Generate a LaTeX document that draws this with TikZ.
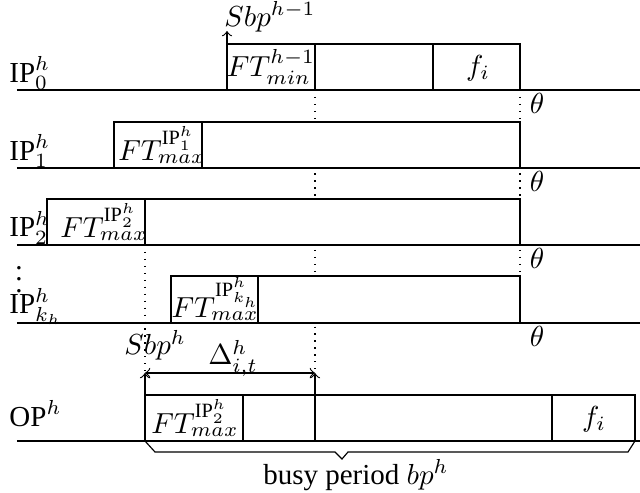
\documentclass[tikz,border=0pt]{standalone}
\usepackage{amsmath}
\usepackage[no-math]{fontspec}
\setmainfont{Liberation Serif}
\newcommand{\IP}{\text{IP}}
\newcommand{\OP}{\text{OP}}

\begin{document}
\begin{tikzpicture}[x=0.345pt,y=-0.345pt,line join=miter,every node/.style={inner sep=1pt}]
  \tikzset{slot/.style={draw,fill=white},
    guide/.style={dotted},
    rowlabel/.style={anchor=base west}}
  \useasboundingbox (0,0) rectangle (640,493);
  % dotted guides
  \draw[guide] (315,90) -- (315,373);
  \draw[guide] (520,90) -- (520,276);
  \draw[guide] (145,245) -- (145,373);
  % time axes
  \foreach \y in {90,168,245,323,441}
    \draw (17,\y) -- (640,\y);
  \foreach \y/\n in {90/0,168/1,245/2,323/3}
    \node (theta\n) at (537,{\y+13}) {$\theta$};
  % IP_0
  \draw[slot] (227,44) rectangle (520,90);
  \draw (315,44) -- (315,90);
  \draw (433,44) -- (433,90);
  \node (ft0) at (271,67) {$FT^{h-1}_{min}$};
  \node (f0) at (478,68) {$f_i$};
  % IP_1
  \draw[slot] (114,122) rectangle (520,168);
  \draw (202,122) -- (202,168);
  \node (ft1) at (162,145) {$FT^{\IP^h_1}_{max}$};
  % IP_2
  \draw[slot] (47,199) rectangle (520,245);
  \draw (145,199) -- (145,245);
  \node (ft2) at (104,222) {$FT^{\IP^h_2}_{max}$};
  % IP_k
  \draw[slot] (171,276) rectangle (520,323);
  \draw (258,276) -- (258,323);
  \node (ftk) at (216,299) {$FT^{\IP^h_{k_h}}_{max}$};
  % OP
  \draw[slot] (145,395) rectangle (635,441);
  \draw (243,395) -- (243,441);
  \draw (315,395) -- (315,441);
  \draw (552,395) -- (552,441);
  \node (fto) at (195,418) {$FT^{\IP^h_2}_{max}$};
  \node (fo) at (594,419) {$f_i$};
  % row labels
  \node[rowlabel] (ip0) at (6,82) {$\IP^h_0$};
  \node[rowlabel] (ip1) at (6,160) {$\IP^h_1$};
  \node[rowlabel] (ip2) at (6,237) {$\IP^h_2$};
  \node (dots) at (19,271) {$\vdots$};
  \node[rowlabel] (ipk) at (6,314) {$\IP^h_{k_h}$};
  \node[rowlabel] (op) at (6,427) {$\OP^h$};
  % start of busy periods
  \coordinate (s0) at (227,44);
  \coordinate (s0t) at (227,31);
  \draw[->] (s0) -- (s0t);
  \node[anchor=base west] (sbp0) at (221,26) {$Sbp^{h-1}$};
  \coordinate (s1) at (145,395);
  \coordinate (s1t) at (145,373);
  \coordinate (e1) at (315,395);
  \coordinate (e1t) at (315,373);
  \draw[->] (s1) -- (s1t);
  \draw[->] (e1) -- (e1t);
  \draw[<->] (s1t) -- (e1t);
  \node[anchor=base west] (sbp1) at (121,355) {$Sbp^h$};
  \node[anchor=base] (delta) at (233,365) {$\Delta^h_{i,t}$};
  % busy period brace
  \draw (145,441) -- (155,452) -- (335,452) -- (342,459) -- (348,452)
    -- (628,452) -- (635,441);
  \node (bp) at (356,475) {busy period $bp^h$};
\end{tikzpicture}
\end{document}
